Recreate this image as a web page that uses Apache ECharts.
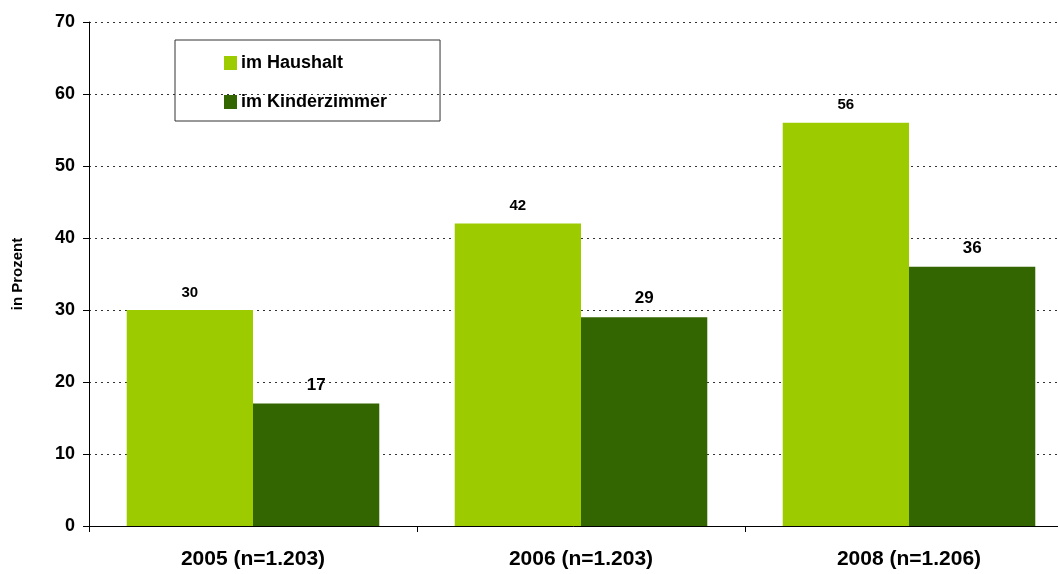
<!DOCTYPE html>
<html>
<head>
<meta charset="utf-8">
<script src="https://cdn.jsdelivr.net/npm/echarts@6/dist/echarts.min.js"></script>
<style>
  html, body { margin: 0; padding: 0; background: #fff; }
  #chart { width: 1058px; height: 574px; }
</style>
</head>
<body>
<div id="chart"></div>
<script>
var categories = ["2005 (n=1.203)", "2006 (n=1.203)", "2008 (n=1.206)"];
var haushalt = [30, 42, 56];
var kinderzimmer = [17, 29, 36];

var chart = echarts.init(document.getElementById("chart"));
var font = "Liberation Sans, Arial, sans-serif";

var option = {
    backgroundColor: "#fff",
    animation: false,
    textStyle: { fontFamily: font },
    grid: { left: 89, top: 22, width: 984, height: 504, outerBoundsMode: "none", containLabel: false },
    legend: {
        orient: "vertical",
        left: 175,
        top: 40,
        padding: [14, 53, 10, 49],
        itemGap: 21,
        itemWidth: 13,
        itemHeight: 14,
        borderColor: "#333",
        borderWidth: 1,
        icon: "rect",
        textStyle: { fontSize: 18, fontWeight: "bold", color: "#000", fontFamily: font, padding: [0, 0, 0, -1] },
        data: ["im Haushalt", "im Kinderzimmer"]
    },
    xAxis: {
        type: "category",
        data: categories,
        axisLine: { lineStyle: { color: "#000", width: 1 } },
        axisTick: { show: true, length: 6, lineStyle: { color: "#000" } },
        axisLabel: { fontSize: 21, fontWeight: "bold", color: "#000", margin: 23 }
    },
    yAxis: {
        type: "value",
        min: 0,
        max: 70,
        interval: 10,
        name: "in Prozent",
        nameLocation: "middle",
        nameRotate: 90,
        nameGap: 64,
        nameTextStyle: { fontSize: 15, fontWeight: "bold", color: "#000" },
        axisLine: { show: true, lineStyle: { color: "#000", width: 1 } },
        axisTick: { show: true, length: 6, lineStyle: { color: "#000" } },
        axisLabel: { fontSize: 18, fontWeight: "bold", color: "#000", margin: 14 },
        splitLine: { show: true, lineStyle: { color: "#333", type: [2, 4], width: 1 } }
    },
    series: [
        {
            name: "im Haushalt",
            type: "bar",
            data: haushalt,
            barGap: "0%",
            barCategoryGap: "23%",
            itemStyle: { color: "#9ccc00" },
            label: { show: true, position: "top", distance: 10, fontSize: 15, fontWeight: "bold", color: "#000" }
        },
        {
            name: "im Kinderzimmer",
            type: "bar",
            data: kinderzimmer,
            itemStyle: { color: "#336600" },
            label: { show: true, position: "top", distance: 10, fontSize: 17, fontWeight: "bold", color: "#000" }
        }
    ]
};

chart.setOption(option);
</script>
</body>
</html>
